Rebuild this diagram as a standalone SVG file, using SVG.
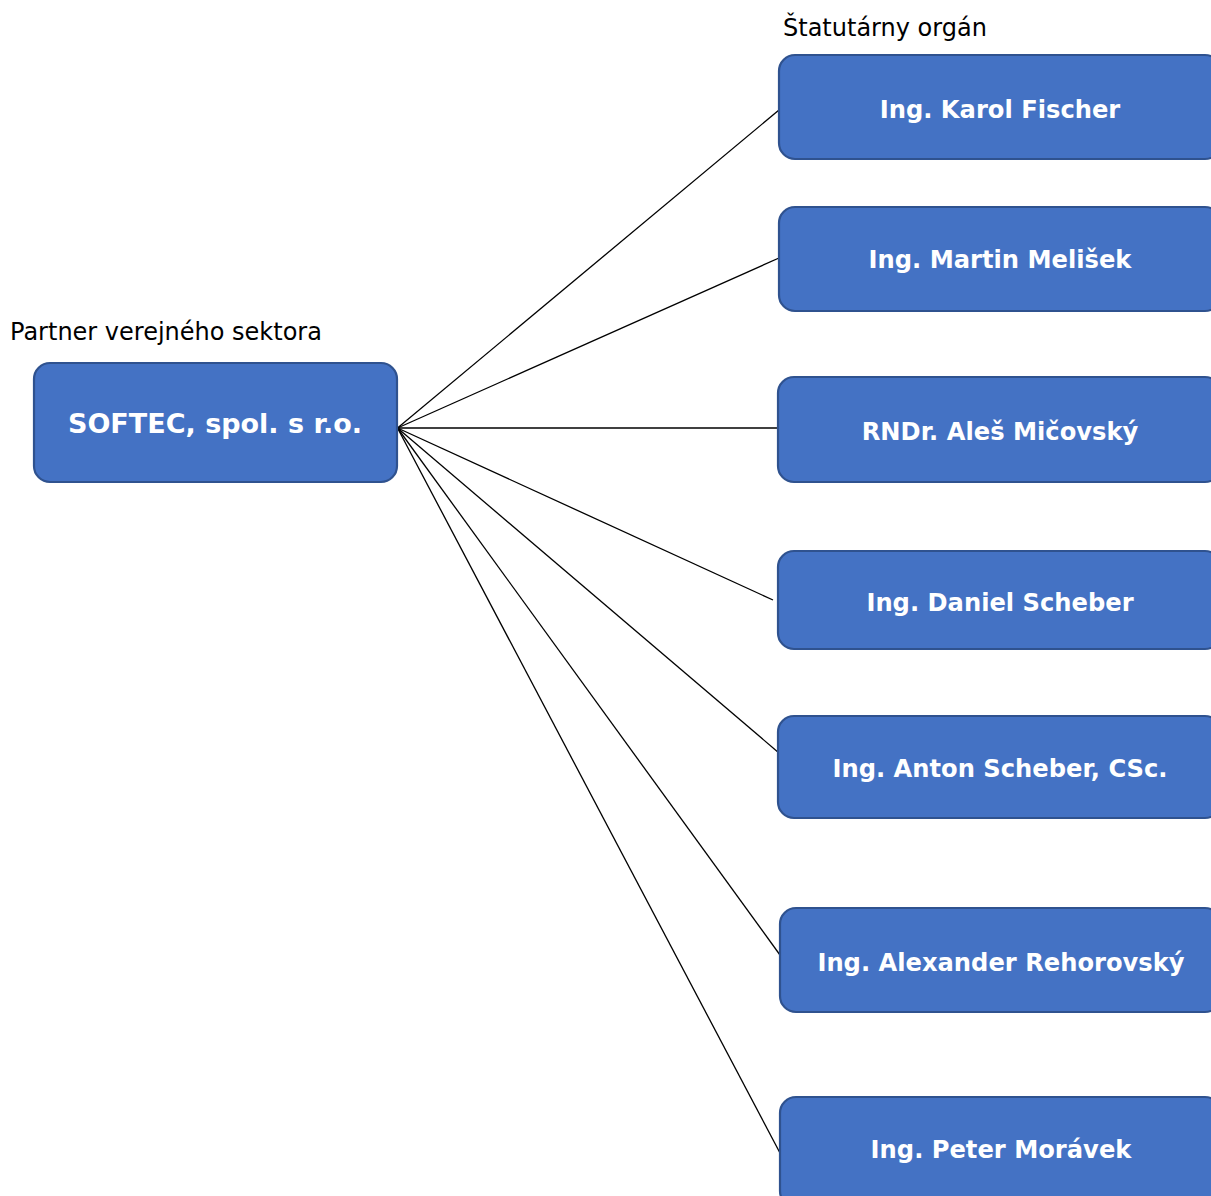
<svg xmlns="http://www.w3.org/2000/svg" width="1211" height="1196" viewBox="0 0 1211 1196">
<style>
.box{fill:#4472C4;stroke:#2F528F;stroke-width:2.2}
.t{font-family:"DejaVu Sans",Verdana,sans-serif;font-weight:bold;fill:#fff;text-anchor:middle;font-size:24.2px}
.lbl{font-family:"DejaVu Sans",Verdana,sans-serif;fill:#000;font-size:24px}
.c line{stroke:#000;stroke-width:1.3}
</style>
<rect width="1211" height="1196" fill="#fff"/>
<text class="lbl" x="10" y="340">Partner verejného sektora</text>
<text class="lbl" x="783" y="36">Štatutárny orgán</text>
<g class="c" id="connectors">
<line x1="397.5" y1="428" x2="779" y2="110"/>
<line x1="397.5" y1="428" x2="779" y2="258"/>
<line x1="397.5" y1="428" x2="779" y2="428"/>
<line x1="397.5" y1="428" x2="773" y2="600"/>
<line x1="397.5" y1="428" x2="779" y2="753"/>
<line x1="397.5" y1="428" x2="780" y2="955"/>
<line x1="397.5" y1="428" x2="780" y2="1153"/>
</g>
<g id="softec"><rect class="box" x="34" y="363" width="363" height="119" rx="16"/><text class="t" x="215" y="433" style="font-size:27px">SOFTEC, spol. s r.o.</text></g>
<g id="n1"><rect class="box" x="779" y="55" width="442" height="104" rx="16"/><text class="t" x="1000" y="118">Ing. Karol Fischer</text></g>
<g id="n2"><rect class="box" x="779" y="207" width="442" height="104" rx="16"/><text class="t" x="1000" y="268">Ing. Martin Melišek</text></g>
<g id="n3"><rect class="box" x="778" y="377" width="443" height="105" rx="16"/><text class="t" x="1000" y="440">RNDr. Aleš Mičovský</text></g>
<g id="n4"><rect class="box" x="778" y="551" width="443" height="98" rx="16"/><text class="t" x="1000" y="611">Ing. Daniel Scheber</text></g>
<g id="n5"><rect class="box" x="778" y="716" width="443" height="102" rx="16"/><text class="t" x="1000" y="777">Ing. Anton Scheber, CSc.</text></g>
<g id="n6"><rect class="box" x="780" y="908" width="441" height="104" rx="16"/><text class="t" x="1001" y="971">Ing. Alexander Rehorovský</text></g>
<g id="n7"><rect class="box" x="780" y="1097" width="441" height="110" rx="16"/><text class="t" x="1001" y="1158">Ing. Peter Morávek</text></g>
</svg>
